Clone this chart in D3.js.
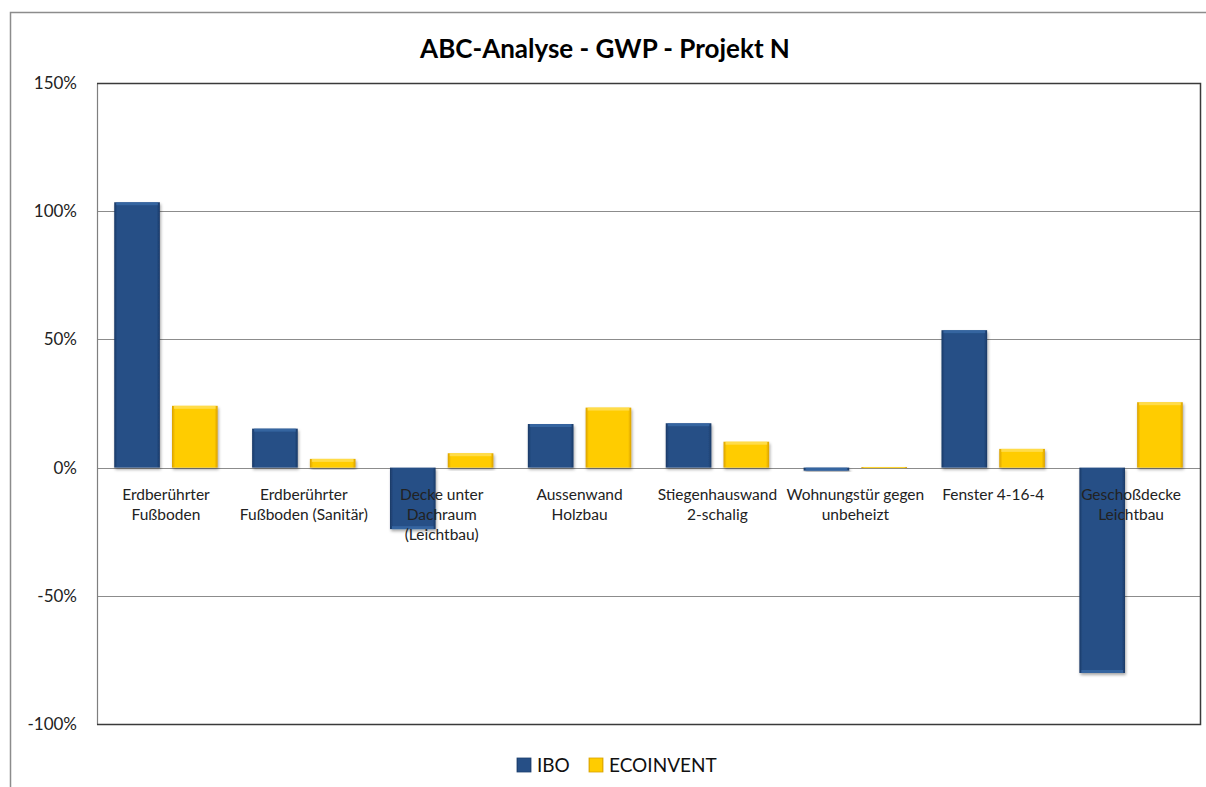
<!DOCTYPE html>
<html>
<head>
<meta charset="utf-8">
<script src="https://cdn.jsdelivr.net/npm/d3@7"></script>
<style>
  body { margin: 0; background: #fff; }
  svg { display: block; font-family: Lato, "Open Sans", sans-serif; }
</style>
</head>
<body>
<svg width="1206" height="787"></svg>
<script>
// chart data
let categories = [
    ["Erdberührter", "Fußboden"],
    ["Erdberührter", "Fußboden (Sanitär)"],
    ["Decke unter", "Dachraum", "(Leichtbau)"],
    ["Aussenwand", "Holzbau"],
    ["Stiegenhauswand", "2-schalig"],
    ["Wohnungstür gegen", "unbeheizt"],
    ["Fenster 4-16-4"],
    ["Geschoßdecke", "Leichtbau"]
];
let seriesNames = ["IBO", "ECOINVENT"];
let iboValues = [1.035, 0.152, -0.240, 0.170, 0.173, -0.012, 0.536, -0.801];
let ecoinventValues = [0.241, 0.034, 0.056, 0.234, 0.101, 0.002, 0.073, 0.255];
let yTicks = [-1, -0.5, 0, 0.5, 1, 1.5];

let svg = d3.select("svg");
let margin = { left: 97, right: 1200, top: 83, bottom: 724 };

let catIds = d3.range(categories.length);
let x0 = d3.scaleBand().domain(catIds).range([margin.left, margin.right]).paddingInner(0.25).paddingOuter(0.125);
let x1 = d3.scaleBand().domain(seriesNames).range([0, x0.bandwidth()]).paddingInner(0.21);
let y = d3.scaleLinear().domain([-1, 1.5]).range([margin.bottom, margin.top]);

// gradients for bevel look
let defs = svg.append("defs");
function bevel(id, dark, mid) {
    let g = defs.append("linearGradient").attr("id", id).attr("x1", "0").attr("x2", "1").attr("y1", "0").attr("y2", "0");
    g.append("stop").attr("offset", "0").attr("stop-color", dark);
    g.append("stop").attr("offset", "0.07").attr("stop-color", mid);
    g.append("stop").attr("offset", "0.93").attr("stop-color", mid);
    g.append("stop").attr("offset", "1").attr("stop-color", dark);
}
bevel("gIBO", "#1a3966", "#264f86");
bevel("gECOINVENT", "#d9a000", "#ffcc00");
let shadow = defs.append("filter").attr("id", "shadow").attr("x", "-20%").attr("y", "-20%").attr("width", "140%").attr("height", "140%");
shadow.append("feDropShadow").attr("dx", 1).attr("dy", 2).attr("stdDeviation", 1.5).attr("flood-color", "#000").attr("flood-opacity", 0.35);

// outer frame
svg.append("path")
    .attr("d", "M10.5,787 L10.5,12.5 L1206,12.5")
    .attr("fill", "none").attr("stroke", "#8c8c8c").attr("stroke-width", 1.5);

// title
svg.append("text")
    .attr("x", 605).attr("y", 58)
    .attr("text-anchor", "middle")
    .attr("font-size", 26).attr("font-weight", "bold")
    .attr("fill", "#000")
    .text("ABC-Analyse - GWP - Projekt N");

// gridlines
svg.append("g")
    .selectAll("line")
    .data(yTicks.filter(d => d > -1 && d < 1.5))
    .enter().append("line")
    .attr("x1", margin.left).attr("x2", margin.right)
    .attr("y1", d => Math.round(y(d)) + 0.5).attr("y2", d => Math.round(y(d)) + 0.5)
    .attr("stroke", "#8c8c8c").attr("stroke-width", 1.2);

// y axis
let pct = d3.format(".0%");
let yAxis = d3.axisLeft(y).tickValues(yTicks).tickSize(0).tickPadding(20)
    .tickFormat(d => pct(d).replace("\u2212", "-"));
let ya = svg.append("g").attr("transform", "translate(" + margin.left + ",0)").call(yAxis);
ya.select(".domain").attr("stroke", "#7f7f7f").attr("stroke-width", 1.2);
ya.selectAll("text").attr("font-size", 17).attr("fill", "#222").attr("font-family", "Lato, sans-serif");

// plot border top/right/bottom
svg.append("path")
    .attr("d", "M" + margin.left + "," + (margin.top + 0.5) + " L" + (margin.right + 0.5) + "," + (margin.top + 0.5) +
        " L" + (margin.right + 0.5) + "," + (margin.bottom + 0.5) + " L" + margin.left + "," + (margin.bottom + 0.5))
    .attr("fill", "none").attr("stroke", "#3a3a3a").attr("stroke-width", 1.5);

// bars
let rows = catIds.map(i => ({ i: i, values: [
    { key: "IBO", value: iboValues[i] },
    { key: "ECOINVENT", value: ecoinventValues[i] }
] }));

let groups = svg.append("g")
    .selectAll("g")
    .data(rows)
    .enter().append("g")
    .attr("transform", d => "translate(" + x0(d.i) + ",0)");

let bars = groups.selectAll("g.bar")
    .data(d => d.values)
    .enter().append("g").attr("class", "bar")
    .attr("filter", "url(#shadow)");

bars.append("rect")
    .attr("x", d => x1(d.key))
    .attr("y", d => y(Math.max(0, d.value)))
    .attr("width", x1.bandwidth())
    .attr("height", d => Math.max(1, Math.abs(y(d.value) - y(0))))
    .attr("fill", d => "url(#g" + d.key + ")");

// highlight strip on the outer end of each bar
bars.append("rect")
    .attr("x", d => x1(d.key) + 2)
    .attr("y", d => d.value >= 0 ? y(d.value) : y(d.value) - 3)
    .attr("width", x1.bandwidth() - 4)
    .attr("height", d => Math.min(3, Math.abs(y(d.value) - y(0))))
    .attr("fill", d => d.key === "IBO" ? "#3b6aa6" : "#ffe05a")
    .attr("opacity", 0.8);

// category labels
let labels = svg.append("g")
    .selectAll("text")
    .data(rows)
    .enter().append("text")
    .attr("text-anchor", "middle")
    .attr("font-size", 15.5)
    .attr("fill", "#222")
    .attr("transform", d => "translate(" + (x0(d.i) + x0.bandwidth() / 2) + ",500)");

labels.selectAll("tspan")
    .data(d => categories[d.i])
    .enter().append("tspan")
    .attr("x", 0)
    .attr("y", (d, k) => k * 20)
    .text(d => d);

// legend
let legend = svg.append("g").attr("transform", "translate(517,765)");
let legendItems = legend.selectAll("g")
    .data(seriesNames)
    .enter().append("g")
    .attr("transform", (d, k) => "translate(" + (k * 72) + ",0)");
legendItems.append("rect")
    .attr("x", 0).attr("y", -7).attr("width", 14).attr("height", 14)
    .attr("fill", d => "url(#g" + d + ")")
    .attr("stroke", d => d === "IBO" ? "#1d3f6e" : "#d9a400").attr("stroke-width", 0.8);
legendItems.append("text")
    .attr("x", 20).attr("y", 7)
    .attr("font-size", 19)
    .attr("fill", "#111")
    .text(d => d);
</script>
</body>
</html>
